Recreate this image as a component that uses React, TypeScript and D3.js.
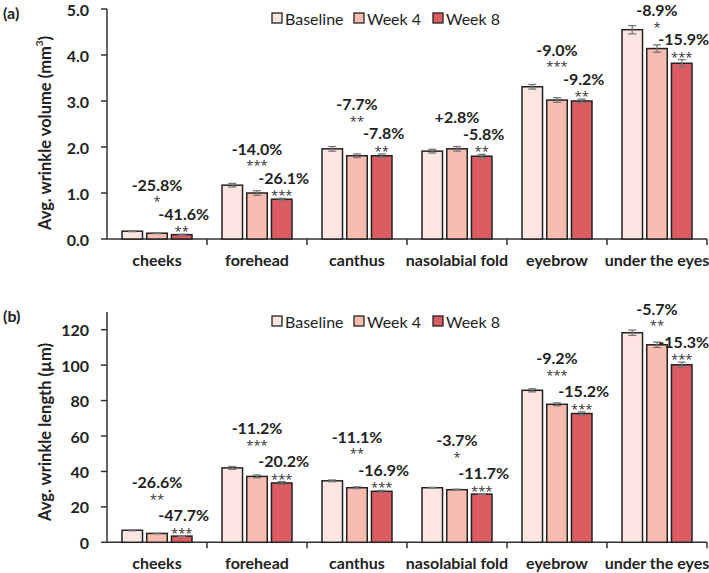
import React from "react";
import * as d3 from "d3";

const categories = ["cheeks", "forehead", "canthus", "nasolabial fold", "eyebrow", "under the eyes"];
const seriesNames = ["Baseline", "Week 4", "Week 8"];

// Panel (a): average wrinkle volume (mm^3)
const volBaseline = [0.17, 1.17, 1.96, 1.91, 3.31, 4.55];
const volWeek4 = [0.126, 1.0, 1.81, 1.96, 3.02, 4.14];
const volWeek8 = [0.095, 0.865, 1.81, 1.80, 3.0, 3.82];
const volErrBaseline = [0.01, 0.04, 0.05, 0.04, 0.05, 0.09];
const volErrWeek4 = [0.01, 0.05, 0.04, 0.05, 0.05, 0.08];
const volErrWeek8 = [0.01, 0.02, 0.04, 0.04, 0.04, 0.08];
const volPctWeek4 = ["-25.8%", "-14.0%", "-7.7%", "+2.8%", "-9.0%", "-8.9%"];
const volSigWeek4 = ["*", "***", "**", "", "***", "*"];
const volPctWeek8 = ["-41.6%", "-26.1%", "-7.8%", "-5.8%", "-9.2%", "-15.9%"];
const volSigWeek8 = ["**", "***", "**", "**", "**", "***"];
const volTicks = [0, 1, 2, 3, 4, 5];

// Panel (b): average wrinkle length (um)
const lenBaseline = [6.8, 42.0, 34.7, 30.8, 85.8, 118.3];
const lenWeek4 = [5.0, 37.2, 30.8, 29.7, 77.9, 111.5];
const lenWeek8 = [3.5, 33.5, 28.8, 27.2, 72.7, 100.2];
const lenErrBaseline = [0.3, 0.8, 0.5, 0.2, 0.9, 1.5];
const lenErrWeek4 = [0.2, 0.8, 0.5, 0.3, 0.8, 1.5];
const lenErrWeek8 = [0.2, 0.8, 0.5, 0.2, 0.9, 1.5];
const lenPctWeek4 = ["-26.6%", "-11.2%", "-11.1%", "-3.7%", "-9.2%", "-5.7%"];
const lenSigWeek4 = ["**", "***", "**", "*", "***", "**"];
const lenPctWeek8 = ["-47.7%", "-20.2%", "-16.9%", "-11.7%", "-15.2%", "-15.3%"];
const lenSigWeek8 = ["***", "***", "***", "***", "***", "***"];
const lenTicks = [0, 20, 40, 60, 80, 100, 120];

const COLORS = ["#FDE5E1", "#F9BCB0", "#DB5D61"];
const FONT = "Lato, 'Noto Sans', sans-serif";
const STAR_FONT = "'Open Sans', sans-serif";
const AXIS = "#333";

type PanelProps = {
  label: string;
  yTitle: React.ReactNode;
  series: number[][];
  errs: number[][];
  pct4: string[];
  sig4: string[];
  pct8: string[];
  sig8: string[];
  ticks: number[];
  yMax: number;
  fmt: (v: number) => string;
  top: number;
  bottom: number;
  gap: number;
  titleY: number;
};

function Panel(p: PanelProps) {
  const left = 107;
  const right = 707;
  const x0 = d3.scaleBand<string>().domain(categories).range([left, right]).paddingInner(0).paddingOuter(0);
  const x1 = d3.scaleBand<string>().domain(seriesNames).range([15, 85]).paddingInner(0.17).paddingOuter(0);
  const y = d3.scaleLinear().domain([0, p.yMax]).range([p.bottom, p.top]);
  const bw = x1.bandwidth();

  return (
    <g fontFamily={FONT}>
      <text x={3} y={p.top + 3} dominantBaseline="central" fontSize={16} fontWeight={700} fill="#222">{p.label}</text>
      {/* y axis */}
      <line x1={left} x2={left} y1={p.top} y2={p.bottom} stroke={AXIS} strokeWidth={1.5} />
      {p.ticks.map((t) => (
        <g key={t}>
          <line x1={left - 6} x2={left} y1={y(t)} y2={y(t)} stroke={AXIS} strokeWidth={1.5} />
          <text x={left - 18} y={y(t)} textAnchor="end" dominantBaseline="central" fontSize={16} fontWeight={700} fill="#222">{p.fmt(t)}</text>
        </g>
      ))}
      <text transform={`translate(45,${p.titleY}) rotate(-90)`} textAnchor="middle" dominantBaseline="central" fontSize={16.5} fontWeight={700} fill="#222">{p.yTitle}</text>
      {/* x axis */}
      <line x1={left} x2={right} y1={p.bottom} y2={p.bottom} stroke={AXIS} strokeWidth={1.5} />
      {categories.map((c) => (
        <line key={"t" + c} x1={x0(c)! + x0.bandwidth()} x2={x0(c)! + x0.bandwidth()} y1={p.bottom} y2={p.bottom + 6} stroke={AXIS} strokeWidth={1.5} />
      ))}
      {categories.map((c) => (
        <text key={"l" + c} x={x0(c)! + x0.bandwidth() / 2} y={p.bottom + 20} textAnchor="middle" dominantBaseline="central" fontSize={16} fontWeight={700} fill="#222">{c}</text>
      ))}
      {/* bars */}
      {categories.map((c, i) => (
        <g key={"b" + c}>
          {seriesNames.map((s, k) => {
            const v = p.series[k][i];
            const e = p.errs[k][i];
            const bx = x0(c)! + x1(s)!;
            const cx = bx + bw / 2;
            return (
              <g key={s}>
                <rect x={bx} y={y(v)} width={bw} height={p.bottom - y(v)} fill={COLORS[k]} stroke="#222" strokeWidth={1.5} />
                <line x1={cx} x2={cx} y1={y(v + e)} y2={y(v - e)} stroke="#777" strokeWidth={1.3} />
                <line x1={cx - 4} x2={cx + 4} y1={y(v + e)} y2={y(v + e)} stroke="#777" strokeWidth={1.3} />
                <line x1={cx - 4} x2={cx + 4} y1={y(v - e)} y2={y(v - e)} stroke="#777" strokeWidth={1.3} />
              </g>
            );
          })}
        </g>
      ))}
      {/* annotations */}
      {categories.map((c, i) => {
        const top8 = y(p.series[2][i] + p.errs[2][i]);
        const cx4 = x0(c)! + x1("Week 4")! + bw / 2;
        const cx8 = x0(c)! + x1("Week 8")! + bw / 2;
        const s8y = top8 - 7;
        const p8y = top8 - 21;
        const s4y = p8y - p.gap;
        const p4y = p.sig4[i] ? s4y - 13 : p8y - 17;
        return (
          <g key={"a" + c}>
            <text x={cx8} y={s8y + 4} textAnchor="middle" dominantBaseline="central" fontSize={13} fontFamily={STAR_FONT} fill="#333">{p.sig8[i]}</text>
            <text x={cx8 + 2} y={p8y} textAnchor="middle" dominantBaseline="central" fontSize={16} fontWeight={700} fill="#222">{p.pct8[i]}</text>
            {p.sig4[i] ? (
              <text x={cx4} y={s4y + 4} textAnchor="middle" dominantBaseline="central" fontSize={13} fontFamily={STAR_FONT} fill="#333">{p.sig4[i]}</text>
            ) : null}
            <text x={cx4} y={p4y} textAnchor="middle" dominantBaseline="central" fontSize={16} fontWeight={700} fill="#222">{p.pct4[i]}</text>
          </g>
        );
      })}
      {/* legend */}
      {seriesNames.map((s, k) => {
        const lx = [272, 354, 433][k];
        const ly = p.top + 9;
        return (
          <g key={"lg" + s}>
            <rect x={lx} y={ly - 5} width={10} height={10} fill={COLORS[k]} stroke="#222" strokeWidth={1.3} />
            <text x={lx + 13} y={ly} dominantBaseline="central" fontSize={16} fill="#222">{s}</text>
          </g>
        );
      })}
    </g>
  );
}

export default function App() {
  return (
    <svg width={709} height={573} style={{ position: "absolute", left: 0, top: 0, background: "#fff" }}>
      <rect width={709} height={573} fill="#fff" />
      <Panel
        label="(a)"
        yTitle={<>Avg. wrinkle volume (mm<tspan baselineShift="super" fontSize={10}>3</tspan>)</>}
        series={[volBaseline, volWeek4, volWeek8]}
        errs={[volErrBaseline, volErrWeek4, volErrWeek8]}
        pct4={volPctWeek4}
        sig4={volSigWeek4}
        pct8={volPctWeek8}
        sig8={volSigWeek8}
        ticks={volTicks}
        yMax={5}
        fmt={(v) => v.toFixed(1)}
        top={9}
        bottom={239}
        gap={16}
        titleY={133}
      />
      <Panel
        label="(b)"
        yTitle="Avg. wrinkle length (µm)"
        series={[lenBaseline, lenWeek4, lenWeek8]}
        errs={[lenErrBaseline, lenErrWeek4, lenErrWeek8]}
        pct4={lenPctWeek4}
        sig4={lenSigWeek4}
        pct8={lenPctWeek8}
        sig8={lenSigWeek8}
        ticks={lenTicks}
        yMax={130}
        fmt={(v) => String(v)}
        top={312}
        bottom={542.3}
        gap={20}
        titleY={432}
      />
    </svg>
  );
}
